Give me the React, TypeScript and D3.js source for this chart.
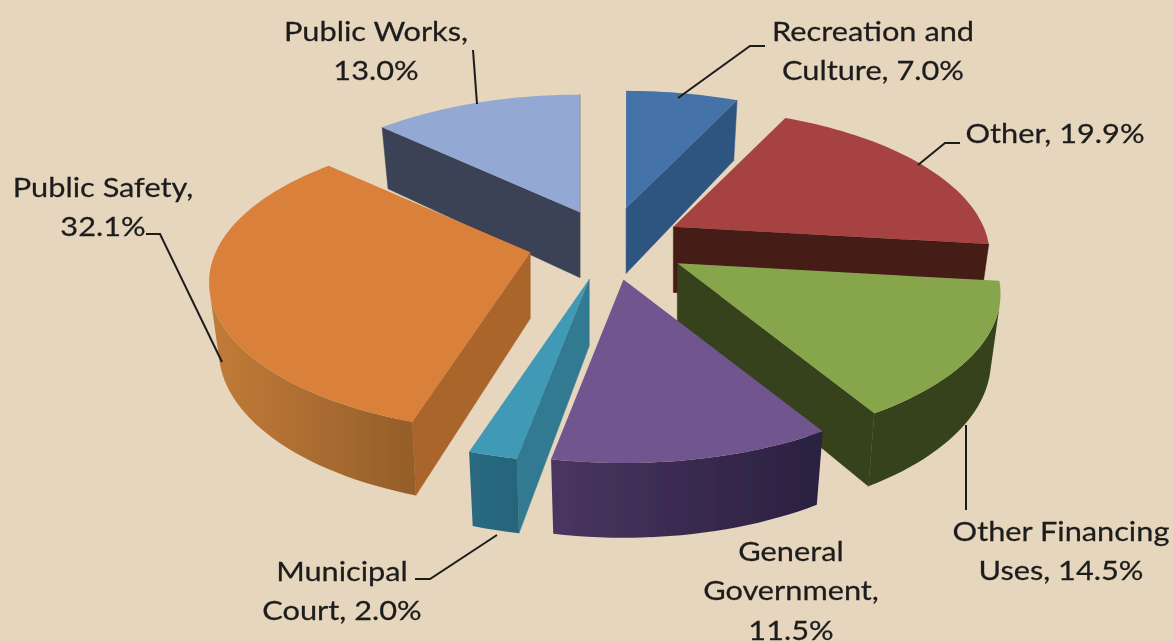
import React from "react";
import * as d3 from "d3";

const WIDTH = 1173;
const HEIGHT = 641;

const sliceNames = ["Recreation and Culture", "Other", "Other Financing Uses", "General Government", "Municipal Court", "Public Safety", "Public Works"];
const sliceValues = [7.0, 19.9, 14.5, 11.5, 2.0, 32.1, 13.0];
const sliceExplosion = [0.25, 0.235, 0.26, 0.26, 0.26, 0.26, 0.235];

const topColors = ["#4572a8", "#a64242", "#87a64c", "#6f548e", "#3f9ab5", "#d9813a", "#93a8d2"];
// wall gradient, left end then right end
const wallColors = [
  ["#2f5480", "#2f5480"],
  ["#451a17", "#451a17"],
  ["#34421b", "#34421b"],
  ["#4a3560", "#2a2040"],
  ["#2a6a80", "#25647a"],
  ["#c27b38", "#945e2a"],
  ["#3a4256", "#3a4256"],
];
const cutColors = ["#2f5480", "#451a17", "#34421b", "#2a2040", "#337a91", "#a9652c", "#3a4256"];

const labelLines = [
  ["Recreation and", "Culture, 7.0%"],
  ["Other, 19.9%"],
  ["Other Financing", "Uses, 14.5%"],
  ["General", "Government,", "11.5%"],
  ["Municipal", "Court, 2.0%"],
  ["Public Safety,", "32.1%"],
  ["Public Works,", "13.0%"],
];
const labelAnchors = [
  [873, 41],
  [1055, 143],
  [1061, 541],
  [791, 561],
  [342, 581],
  [103, 197],
  [376, 41],
];
const leaderLines = [
  [[765, 46], [750, 46], [678, 98]],
  [[960, 143], [945, 143], [918, 165]],
  [[966, 510], [966, 425]],
  [],
  [[415, 579], [430, 579], [497, 535]],
  [[146, 234], [160, 234], [222, 362]],
  [[473, 50], [477, 104]],
];

const CX = 609;
const CY = 243;
const RX = 313;
const RY = 143;
const PERSP = 0.2;
const EXPLODE_PERSP = 0.4;
const DEPTH = 66;

type Pt = [number, number];

function project(angle: number, radius: number, depth: number, mid: number, explode: number): Pt {
  const ox = explode * Math.sin(mid);
  const oz = explode * Math.cos(mid);
  const vx = radius * Math.sin(angle);
  const vz = radius * Math.cos(angle);
  const s = 1 / (1 + PERSP * (vz + EXPLODE_PERSP * oz));
  return [
    CX + RX * ox + RX * vx * s * (1 - depth * 0.03),
    CY - RY * oz - RY * vz * s + depth * DEPTH * Math.sqrt(s),
  ];
}

const outline = d3.line<Pt>().curve(d3.curveLinearClosed);
const leader = d3.line<number[]>().x((d) => d[0]).y((d) => d[1]);

function Slice({ arc, index }: { arc: d3.PieArcDatum<number>; index: number }) {
  const mid = (arc.startAngle + arc.endAngle) / 2;
  const explode = sliceExplosion[index];
  const steps = Math.max(4, Math.round((arc.endAngle - arc.startAngle) / 0.03));
  const angles = d3.range(steps + 1).map((i) => arc.startAngle + ((arc.endAngle - arc.startAngle) * i) / steps);
  const rim = angles.map((a) => project(a, 1, 0, mid, explode));
  const rimLow = angles.map((a) => project(a, 1, 1, mid, explode));
  const apex = project(0, 0, 0, mid, explode);
  const apexLow = project(0, 0, 1, mid, explode);

  const startCut: Pt[] = [apex, rim[0], rimLow[0], apexLow];
  const endCut: Pt[] = [rim[steps], apex, apexLow, rimLow[steps]];

  // d3.polygonArea is positive for faces turned toward the viewer in screen coordinates
  const visible = d3.range(steps).filter((i) => d3.polygonArea([rim[i], rim[i + 1], rimLow[i + 1], rimLow[i]]) > 0);
  const wallPts: Pt[] = [];
  if (visible.length) {
    const first = visible[0];
    const last = visible[visible.length - 1] + 1;
    wallPts.push(...rim.slice(first, last + 1), ...rimLow.slice(first, last + 1).reverse());
  }
  const xs = wallPts.map((p) => p[0]);
  const gradId = `wall-${index}`;

  return (
    <g>
      {wallPts.length > 0 && (
        <defs>
          <linearGradient id={gradId} gradientUnits="userSpaceOnUse" x1={d3.min(xs)} x2={d3.max(xs)} y1={0} y2={0}>
            <stop offset="0" stopColor={wallColors[index][0]} />
            <stop offset="1" stopColor={wallColors[index][1]} />
          </linearGradient>
        </defs>
      )}
      {[startCut, endCut]
        .filter((q) => d3.polygonArea(q) > 0)
        .map((q, i) => (
          <path key={i} d={outline(q)!} fill={cutColors[index]} stroke={cutColors[index]} strokeWidth={0.5} />
        ))}
      {wallPts.length > 0 && <path d={outline(wallPts)!} fill={`url(#${gradId})`} />}
      <path d={outline([apex, ...rim])!} fill={topColors[index]} />
    </g>
  );
}

export default function App() {
  const arcs = d3.pie<number>().sort(null)(sliceValues);
  // back slices first, so the nearer ones paint over them
  const order = [6, 0, 1, 5, 2, 4, 3];

  return (
    <svg width={WIDTH} height={HEIGHT} style={{ position: "fixed", left: 0, top: 0 }} fontFamily="Lato, sans-serif">
      <defs>
        <filter id="soft" x="0" y="0" width="1" height="1">
          <feGaussianBlur stdDeviation="0.6" />
        </filter>
      </defs>
      <rect width={WIDTH} height={HEIGHT} fill="#e6d6bd" />
      <g filter="url(#soft)">
        {order.map((i) => (
          <Slice key={sliceNames[i]} arc={arcs[i]} index={i} />
        ))}
        {leaderLines.map((pts, i) =>
          pts.length ? <path key={i} d={leader(pts)!} fill="none" stroke="#1c1c1c" strokeWidth={2} /> : null
        )}
        {labelLines.map((lines, i) => (
          <text
            key={i}
            transform={`translate(${labelAnchors[i][0]},${labelAnchors[i][1]}) scale(1.16,1)`}
            textAnchor="middle"
            fontSize={26.5}
            fill="#1c1c1c"
            stroke="#1c1c1c"
            strokeWidth={0.25}
          >
            {lines.map((line, j) => (
              <tspan key={j} x={0} dy={j ? 39.3 : 0}>
                {line}
              </tspan>
            ))}
          </text>
        ))}
      </g>
    </svg>
  );
}
